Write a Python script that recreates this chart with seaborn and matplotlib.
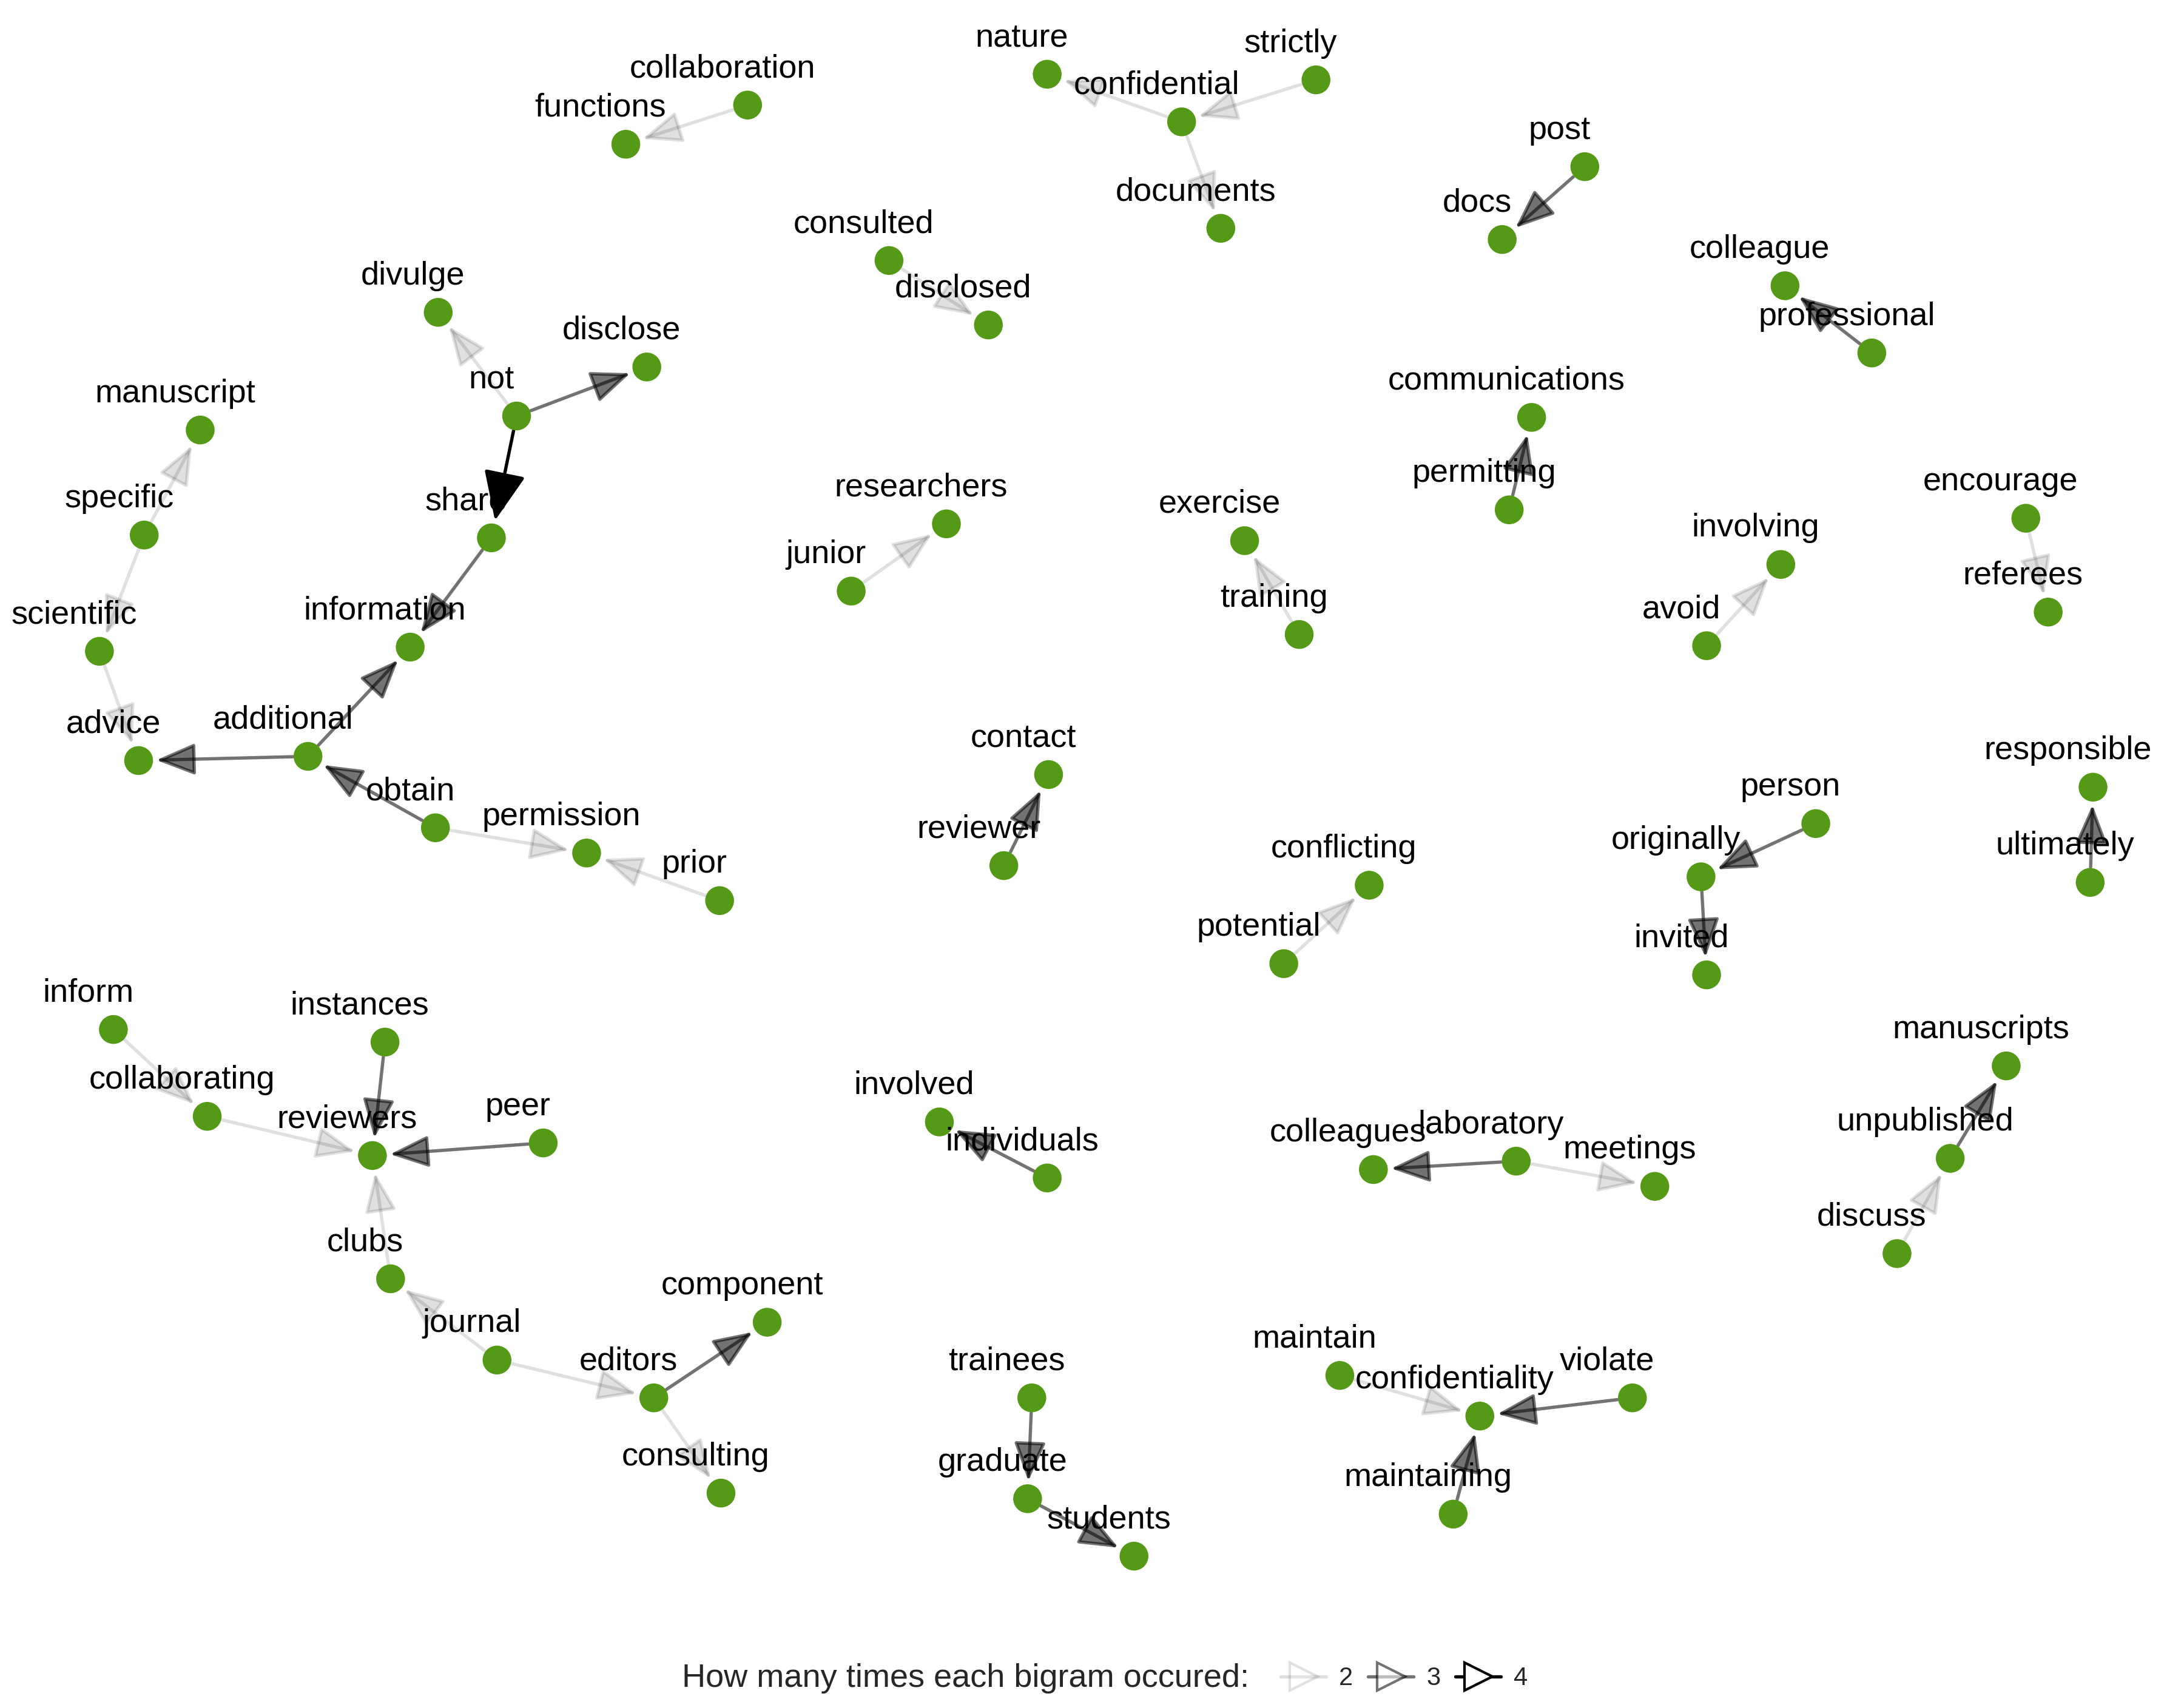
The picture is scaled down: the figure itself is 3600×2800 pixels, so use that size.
import matplotlib
matplotlib.use("Agg")
import matplotlib.pyplot as plt
import seaborn as sns
import pandas as pd
from matplotlib.lines import Line2D

# node positions (layout coordinates)
words = ["collaboration", "functions", "nature", "confidential", "strictly", "documents",
         "post", "docs", "consulted", "disclosed", "colleague", "professional",
         "divulge", "not", "disclose", "share", "manuscript", "specific", "scientific", "advice",
         "communications", "permitting", "researchers", "junior", "exercise", "training",
         "involving", "avoid", "encourage", "referees", "information", "additional", "obtain",
         "permission", "prior", "contact", "reviewer", "conflicting", "potential",
         "person", "originally", "invited", "responsible", "ultimately",
         "inform", "collaborating", "instances", "peer", "reviewers", "clubs", "journal",
         "editors", "component", "consulting", "involved", "individuals",
         "laboratory", "colleagues", "meetings", "manuscripts", "unpublished", "discuss",
         "trainees", "graduate", "students", "maintain", "confidentiality", "violate", "maintaining"]
pos_x = [534, 447, 748, 844, 940, 872, 1132, 1073, 635, 706, 1275, 1337,
         313, 369, 462, 351, 143, 103, 71, 99,
         1094, 1078, 676, 608, 889, 928, 1272, 1219, 1447, 1463, 293, 220, 311,
         419, 514, 749, 717, 978, 917, 1297, 1215, 1219, 1495, 1493,
         81, 148, 275, 388, 266, 279, 355, 467, 548, 515, 671, 748,
         1083, 981, 1182, 1433, 1393, 1355, 737, 734, 810, 957, 1057, 1166, 1038]
pos_y = [75, 103, 53, 87, 57, 163, 119, 171, 186, 232, 204, 252,
         223, 297, 262, 384, 307, 382, 465, 543,
         298, 364, 374, 422, 386, 453, 403, 461, 370, 437, 462, 540, 591,
         609, 643, 553, 618, 632, 688, 588, 626, 696, 562, 630,
         735, 797, 744, 816, 825, 913, 971, 998, 944, 1066, 801, 841,
         829, 835, 847, 761, 827, 895, 998, 1070, 1111, 982, 1011, 998, 1081]

# bigrams: source -> target, count
src = ["collaboration", "confidential", "strictly", "confidential", "post", "consulted",
       "professional", "not", "not", "not", "specific", "specific", "scientific",
       "permitting", "junior", "training", "avoid", "encourage", "share", "additional",
       "additional", "obtain", "obtain", "prior", "reviewer", "potential", "person",
       "originally", "ultimately", "inform", "collaborating", "instances", "peer", "clubs",
       "journal", "journal", "editors", "editors", "individuals", "laboratory", "laboratory",
       "unpublished", "discuss", "trainees", "graduate", "maintain", "violate", "maintaining"]
dst = ["functions", "nature", "confidential", "documents", "docs", "disclosed",
       "colleague", "divulge", "disclose", "share", "manuscript", "scientific", "advice",
       "communications", "researchers", "exercise", "involving", "referees", "information",
       "information", "advice", "additional", "permission", "permission", "contact",
       "conflicting", "originally", "invited", "responsible", "collaborating", "reviewers",
       "reviewers", "reviewers", "reviewers", "clubs", "editors", "component", "consulting",
       "involved", "colleagues", "meetings", "manuscripts", "unpublished", "graduate",
       "students", "confidentiality", "confidentiality", "confidentiality"]
counts = [2, 2, 2, 2, 3, 2, 3, 2, 3, 4, 2, 2, 2, 3, 2, 2, 2, 2, 3, 3, 3, 3, 2, 2, 3, 2, 3,
          3, 3, 2, 2, 3, 3, 2, 2, 2, 3, 2, 3, 3, 2, 3, 2, 3, 3, 2, 3, 3]

nodes = pd.DataFrame({"word": words, "x": pos_x, "y": pos_y})
pos = {w: (x, y) for w, x, y in zip(words, pos_x, pos_y)}
alpha_map = {2: 0.12, 3: 0.55, 4: 1.0}

sns.set_theme(style="white")
plt.rcParams["font.family"] = ["Liberation Sans", "DejaVu Sans"]

fig, ax = plt.subplots(figsize=(12, 28 / 3), dpi=300)
fig.subplots_adjust(left=0, right=1, top=1, bottom=0)

for s, d, n in zip(src, dst, counts):
    ax.annotate("", xy=pos[d], xytext=pos[s],
                arrowprops=dict(arrowstyle="-|>,head_length=1.1,head_width=0.45" if n < 4
                                else "-|>,head_length=1.4,head_width=0.6",
                                color="black", alpha=alpha_map[n], lw=1.3,
                                shrinkA=6, shrinkB=7), zorder=1)

sns.scatterplot(data=nodes, x="x", y="y", color="#549a16", s=130, edgecolor="none",
                ax=ax, zorder=2, legend=False)
for w, x, y in zip(words, pos_x, pos_y):
    ax.text(x - 18, y - 26, w, ha="center", va="center", fontsize=13, color="black", zorder=3)

ax.set_xlim(0, 1560)
ax.set_ylim(1213, 0)
ax.axis("off")

handles = [Line2D([0], [0], color="black", alpha=alpha_map[n], marker=">", markersize=11,
                  markerfacecolor="white", lw=1.3, label=str(n)) for n in (2, 3, 4)]
fig.text(0.572, 0.012, "How many times each bigram occured:", ha="right", va="center", fontsize=13)
fig.legend(handles=handles, loc="center left", bbox_to_anchor=(0.576, 0.012), ncol=3,
           frameon=False, fontsize=10, handlelength=1.8, columnspacing=0.6, handletextpad=0.5)

fig.savefig("out.png", dpi=300)
